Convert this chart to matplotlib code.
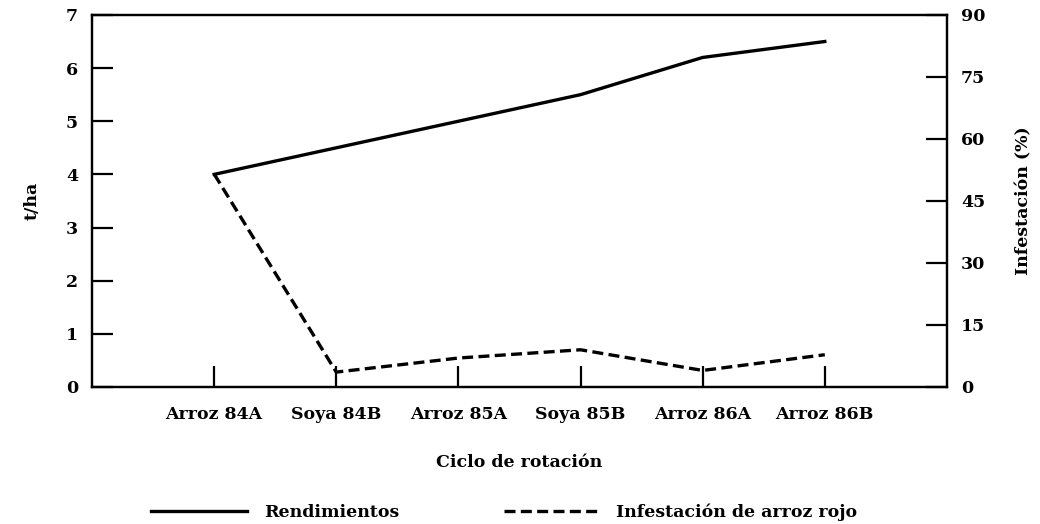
import numpy as np
import matplotlib
matplotlib.use("Agg")
import matplotlib.pyplot as plt
from matplotlib.lines import Line2D

plt.rcParams['font.family'] = ['DejaVu Serif']
plt.rcParams['font.weight'] = 'bold'

# Chart data
ciclos = ["Arroz 84A", "Soya 84B", "Arroz 85A", "Soya 85B", "Arroz 86A", "Arroz 86B"]
rendimiento = [4.0, 4.5, 5.0, 5.5, 6.2, 6.5]       # t/ha
infestacion = [51.5, 3.6, 7.0, 9.0, 4.0, 7.8]      # %

fs = 12.5
dash = (0, (3.3, 1.6))

fig = plt.figure(figsize=(10.4, 5.24), dpi=100)
ax = fig.add_axes([0.0885, 0.2615, 0.822, 0.71])
ax2 = ax.twinx()

x = np.arange(len(ciclos))
ax.plot(x, rendimiento, color='black', linewidth=2.4, solid_joinstyle='round')
ax2.plot(x, infestacion, color='black', linewidth=2.4, linestyle=dash)

ax.set_xlim(-1, 6)
ax.set_ylim(0, 7)
ax2.set_ylim(0, 90)
ax.set_xticks(x)
ax.set_xticklabels(ciclos, fontsize=fs, fontweight='bold')
ax.set_yticks(range(0, 8))
ax2.set_yticks(range(0, 91, 15))

for a in (ax, ax2):
    for s in a.spines.values():
        s.set_linewidth(1.6)
    a.tick_params(direction='in', length=15, width=1.6, labelsize=fs)
ax.tick_params(axis='x', pad=14)
ax.tick_params(axis='y', pad=10)
ax2.tick_params(axis='y', pad=10)
for lbl in ax.get_yticklabels() + ax2.get_yticklabels():
    lbl.set_fontweight('bold')

ax.set_xlabel("Ciclo de rotación", fontsize=fs, fontweight='bold', labelpad=22)
ax.set_ylabel("t/ha", fontsize=fs, fontweight='bold', labelpad=18)
ax2.set_ylabel("Infestación (%)", fontsize=fs, fontweight='bold', labelpad=22)

handles = [Line2D([], [], color='black', linewidth=2.4),
           Line2D([], [], color='black', linewidth=2.4, linestyle=dash)]
fig.legend(handles, ["Rendimientos", "Infestación de arroz rojo"], loc='lower center',
           bbox_to_anchor=(0.485, -0.025), ncol=2, frameon=False, handlelength=5.5,
           columnspacing=6, handletextpad=1.0, prop={'size': fs, 'weight': 'bold'})

fig.savefig("out.png", dpi=100)
